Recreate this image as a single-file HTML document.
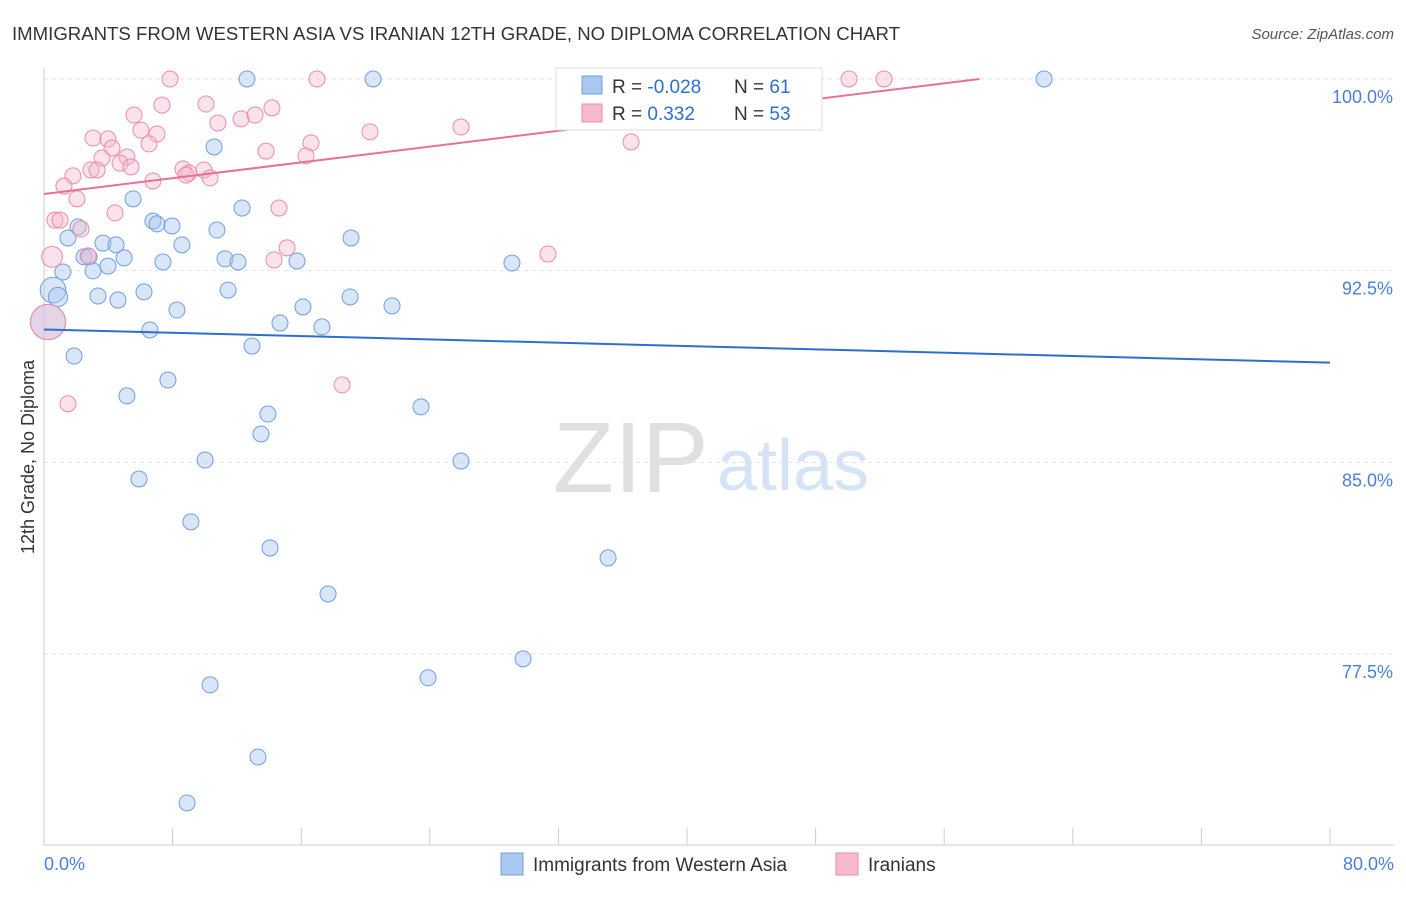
<!DOCTYPE html>
<html><head><meta charset="utf-8">
<style>
body{margin:0;background:#fff;font-family:"Liberation Sans",sans-serif;}
svg text{font-family:"Liberation Sans",sans-serif;}
</style></head>
<body>
<svg id="chart" width="1406" height="892" xmlns="http://www.w3.org/2000/svg">
<text x="12" y="40" font-size="18" fill="#333" textLength="888" lengthAdjust="spacingAndGlyphs">IMMIGRANTS FROM WESTERN ASIA VS IRANIAN 12TH GRADE, NO DIPLOMA CORRELATION CHART</text>
<text x="1394" y="39" font-size="15" fill="#555" text-anchor="end" font-style="italic">Source: ZipAtlas.com</text>
<g>
<text x="553" y="492" font-size="100" fill="#e0e0e0" font-family="Liberation Serif">ZIP</text>
<text x="717" y="490" font-size="72" fill="#d4e3f5">atlas</text>
</g>
<g id="grid"></g>
<g id="axes"></g>
<g id="points"></g>
<g id="trends"></g>
<text transform="translate(34,457) rotate(-90)" font-size="18" fill="#333" text-anchor="middle">12th Grade, No Diploma</text>
<text x="44" y="870" font-size="18" fill="#4a7fd6">0.0%</text>
<text x="1394" y="870" font-size="18" fill="#4a7fd6" text-anchor="end">80.0%</text>
<g>
<rect x="556" y="68" width="266" height="62" fill="#fff" stroke="#ddd"/>
<rect x="582" y="76" width="20" height="18" fill="#a9c8f0" stroke="#6f9fe0"/>
<rect x="582" y="104" width="20" height="18" fill="#f6b8cc" stroke="#ee8aab"/>
<text x="612" y="93" font-size="19" fill="#333">R = <tspan fill="#2c6fd1">-0.028</tspan></text>
<text x="734" y="93" font-size="19" fill="#333">N =  <tspan fill="#2c6fd1">61</tspan></text>
<text x="612" y="120" font-size="19" fill="#333">R =  <tspan fill="#2c6fd1"> 0.332</tspan></text>
<text x="734" y="120" font-size="19" fill="#333">N = <tspan fill="#2c6fd1">53</tspan></text>
</g>
<g>
<rect x="501" y="853" width="22" height="22" fill="#a9c8f0" stroke="#6f9fe0"/>
<text x="533" y="871" font-size="19" fill="#333">Immigrants from Western Asia</text>
<rect x="836" y="853" width="22" height="22" fill="#f6b8cc" stroke="#ee8aab"/>
<text x="868" y="871" font-size="19" fill="#333">Iranians</text>
</g>
</svg>
<script>
const yTicks=[100,92.5,85,77.5];
const yTickLabels=["100.0%","92.5%","85.0%","77.5%"];
const xTicks=[0,8,16,24,32,40,48,56,64,72,80];
const blueX=[12.63,20.47,42.36,62.21,10.58,5.54,12.32,6.78,7.03,7.96,2.12,10.76,1.49,8.58,3.67,4.48,19.10,2.49,2.80,4.98,3.98,7.40,11.26,12.07,15.74,29.11,1.18,3.05,0.56,0.87,3.36,4.60,6.22,11.45,16.11,19.04,21.65,8.27,14.68,17.29,6.59,0.25,12.94,1.87,7.71,5.16,13.93,23.45,13.50,10.02,25.94,5.91,9.14,14.06,35.09,17.67,29.80,23.89,10.33,13.31,8.90];
const blueY=[100,100,100,100,97.34,95.31,94.95,94.44,94.33,94.25,94.21,94.09,93.78,93.51,93.58,93.51,93.78,93.04,93.04,93.00,92.68,92.84,92.96,92.84,92.88,92.80,92.45,92.49,91.74,91.47,91.51,91.35,91.67,91.74,91.08,91.47,91.12,90.96,90.45,90.30,90.18,90.49,89.55,89.16,88.22,87.60,86.89,87.17,86.11,85.09,85.05,84.35,82.67,81.65,81.26,79.85,77.31,76.57,76.29,73.47,71.67];
const blueW=[1,1,1,1,1,1,1,1,1,1,1,1,1,1,1,1,1,1,1,1,1,1,1,1,1,1,1,1,1.6,1.2,1,1,1,1,1,1,1,1,1,1,1,2.2,1,1,1,1,1,1,1,1,1,1,1,1,1,1,1,1,1,1,1];
const pinkX=[7.84,16.98,50.08,52.25,5.60,7.34,10.08,14.18,12.26,10.82,13.13,6.03,7.03,3.05,3.98,6.53,4.23,20.28,25.94,36.52,16.61,13.81,3.61,5.16,4.73,5.41,16.30,2.92,1.80,3.30,8.65,9.02,9.95,6.78,10.33,8.83,1.24,2.05,14.62,4.42,0.68,1.00,2.30,2.74,15.12,14.31,0.50,31.35,18.54,1.49,0.25];
const pinkY=[100,100,100,100,98.59,98.98,99.02,98.87,98.44,98.28,98.59,98.00,97.85,97.69,97.65,97.46,97.30,97.93,98.12,97.54,97.50,97.18,96.91,96.95,96.71,96.56,96.99,96.44,96.21,96.44,96.48,96.32,96.44,96.01,96.13,96.24,95.81,95.31,94.95,94.76,94.48,94.48,94.13,93.08,93.39,92.92,93.04,93.15,88.03,87.29,90.49];
const pinkW=[1,1,1,1,1,1,1,1,1,1,1,1,1,1,1,1,1,1,1,1,1,1,1,1,1,1,1,1,1,1,1,1,1,1,1,1,1,1,1,1,1,1,1,1,1,1,1.3,1,1,1,2.2];
const blueTrend=[[0,90.2],[80,88.9]];
const pinkTrend=[[0,95.5],[58.2,100]];
const NS="http://www.w3.org/2000/svg";
const X=v=>44+v*(1286/80);
const Y=v=>79+(100-v)*(575/22.5);
function mk(tag,attrs,parent){const e=document.createElementNS(NS,tag);for(const k in attrs)e.setAttribute(k,attrs[k]);parent.appendChild(e);return e;}
const grid=document.getElementById('grid'),axes=document.getElementById('axes'),pts=document.getElementById('points'),tr=document.getElementById('trends');
yTicks.forEach((t,i)=>{
 const l=mk('line',{x1:44,x2:1394,y1:Y(t),y2:Y(t),stroke:'#e2e2e2','stroke-dasharray':'4,4'},grid);
 
 
 const tx=mk('text',{x:1393,y:Y(t)+24,'font-size':18,fill:'#4a7fd6','text-anchor':'end'},axes);
 tx.textContent=yTickLabels[i];
 
 
});
const ya=mk('line',{x1:44,x2:44,y1:68,y2:845,stroke:'#ccc'},axes);


const xa=mk('line',{x1:44,x2:1394,y1:845,y2:845,stroke:'#ccc'},axes);


xTicks.forEach(t=>{
 const l=mk('line',{x1:X(t),x2:X(t),y1:828,y2:845,stroke:'#ccc'},axes);
 
 
});
blueX.forEach((v,i)=>{
 const c=mk('circle',{cx:X(v),cy:Y(blueY[i]),r:8*blueW[i],fill:'rgba(169,200,240,0.45)',stroke:'#6f9fe0','stroke-width':1},pts);
 
 
});
pinkX.forEach((v,i)=>{
 const c=mk('circle',{cx:X(v),cy:Y(pinkY[i]),r:8*pinkW[i],fill:'rgba(246,184,204,0.4)',stroke:'#ee8aab','stroke-width':1},pts);
 
 
});
const bl=mk('line',{x1:X(blueTrend[0][0]),y1:Y(blueTrend[0][1]),x2:X(blueTrend[1][0]),y2:Y(blueTrend[1][1]),stroke:'#2c6fd1','stroke-width':2},tr);


const pl=mk('line',{x1:X(pinkTrend[0][0]),y1:Y(pinkTrend[0][1]),x2:X(pinkTrend[1][0]),y2:Y(pinkTrend[1][1]),stroke:'#e8709a','stroke-width':2},tr);


</script>
</body></html>
